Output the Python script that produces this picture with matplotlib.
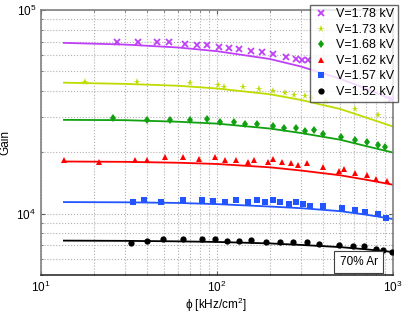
import numpy as np
import matplotlib
matplotlib.use("Agg")
import matplotlib.pyplot as plt
from matplotlib.ticker import LogLocator, NullFormatter

plt.rcParams['font.family'] = ['Liberation Sans', 'DejaVu Sans']
plt.rcParams['mathtext.default'] = 'regular'

labels = ["V=1.78 kV", "V=1.73 kV", "V=1.68 kV", "V=1.62 kV", "V=1.57 kV", "V=1.52 kV"]
colors = ["#c040f8", "#bedc00", "#10a010", "#ff0000", "#2255ff", "#000000"]
markers = ["x", "*", "d", "^", "s", "o"]
msizes = [4, 5.5, 4.5, 5, 4, 4.5]

# measured points (phi in kHz/cm2, gain)
phi_178 = [27.1, 35.7, 45.4, 53.4, 66.1, 76.7, 88.1, 102.6, 116.5, 132.8, 156.6,
           180, 209, 246, 280, 303, 327, 970]
gain_178 = [69900, 69900, 69700, 69450, 68400, 67350, 67350, 66100, 65340, 64600,
            63300, 62000, 60700, 59000, 57500, 56650, 56650, 36600]

phi_173 = [17.8, 35.3, 70.3, 100.7, 110, 140.5, 172.3, 207.3, 241.8, 273.8, 317,
           345, 416, 608, 825]
gain_173 = [44500, 44500, 43700, 42780, 41700, 41800, 40900, 40090, 39200, 38450,
            37970, 37060, 35670, 32790, 30640]

phi_168 = [25.5, 39.9, 53.9, 70.5, 87.2, 104, 125, 144.6, 168.1, 207.3, 241, 281,
           317.5, 357, 402, 506, 611, 709, 825, 900]
gain_168 = [29540, 28780, 28880, 29010, 29110, 28340, 28340, 27680, 27610, 26990,
            26480, 26480, 25430, 25810, 24750, 23770, 23130, 22620, 21790, 21300]

phi_162 = [13.56, 21.3, 34.3, 39.9, 50.5, 64.3, 79.3, 97.8, 110.3, 128.2, 149,
           162.7, 194.9, 207.3, 233.2, 262.6, 288.5, 326, 402, 494.6, 526.8, 610,
           709, 805, 927]
gain_162 = [18390, 17980, 18390, 18390, 18920, 18920, 18500, 18920, 18450, 18390,
            18040, 18450, 18040, 18540, 18040, 17720, 17350, 17720, 16900, 16150,
            16580, 15850, 15430, 14880, 14520]

phi_157 = [33.4, 38.6, 47.9, 64.4, 82.2, 94.9, 110.3, 128.2, 150, 169.4, 187.4,
           207.3, 228, 255.6, 281, 306.8, 337.6, 402, 513, 611, 690, 824, 909]
gain_157 = [11360, 11620, 11360, 11620, 11620, 11610, 11410, 11650, 11380, 11650,
            11380, 11650, 11410, 11160, 11410, 11160, 10940, 10940, 10700, 10460,
            10230, 10020, 9560]

phi_152 = [32.5, 39.9, 49.2, 64.4, 82.2, 97.8, 114.3, 132.5, 156, 189.8, 227,
           271.3, 326, 378.8, 494.6, 594.7, 686, 800.8, 881, 992]
gain_152 = [7185, 7373, 7543, 7543, 7543, 7543, 7390, 7390, 7407, 7240, 7240,
            7240, 7240, 7085, 7060, 6930, 6930, 6750, 6645, 6497]

# fitted curves
phi_fit = [13.5, 30, 60, 100, 200, 300, 500, 700, 1000]
fit_178 = [69000, 67700, 65500, 62800, 57500, 52800, 46000, 41200, 36200]
fit_173 = [44000, 43400, 42500, 41200, 38600, 36200, 32700, 29700, 26800]
fit_168 = [28900, 28800, 28300, 27700, 26200, 24900, 23100, 21500, 19970]
fit_162 = [18050, 17980, 17800, 17550, 16900, 16300, 15450, 14700, 13880]
fit_157 = [11410, 11380, 11300, 11150, 10850, 10650, 10300, 9900, 9420]
fit_152 = [7380, 7360, 7320, 7270, 7150, 7030, 6860, 6690, 6490]

phis = [phi_178, phi_173, phi_168, phi_162, phi_157, phi_152]
gains = [gain_178, gain_173, gain_168, gain_162, gain_157, gain_152]
fits = [fit_178, fit_173, fit_168, fit_162, fit_157, fit_152]

fig = plt.figure(figsize=(4.09, 3.14), dpi=100)
ax = fig.add_axes([0.1002, 0.124, 0.8608, 0.844])

for ph, g, f, c, m, ms, lab in zip(phis, gains, fits, colors, markers, msizes, labels):
    ax.plot(phi_fit, f, '-', color=c, lw=1.3, zorder=2)
    if m == 'x':
        ax.plot(ph, g, m, color=c, ms=ms, mew=1.3, ls='none', label=lab, zorder=3)
    else:
        ax.plot(ph, g, m, color=c, ms=ms, mew=0, ls='none', label=lab, zorder=3)

ax.set_xscale('log')
ax.set_yscale('log')
ax.set_xlim(10, 1000)
ax.set_ylim(5000, 1e5)
ax.xaxis.set_minor_locator(LogLocator(base=10, subs=np.arange(2, 10)))
ax.yaxis.set_minor_locator(LogLocator(base=10, subs=np.arange(2, 10)))
ax.xaxis.set_minor_formatter(NullFormatter())
ax.yaxis.set_minor_formatter(NullFormatter())
ax.grid(True, which='both', ls=':', color='#b0b0b0', lw=0.8)
ax.tick_params(which='both', direction='in', top=True, right=True, labelsize=8.5,
               color='#606060')
ax.tick_params(which='major', length=3)
ax.tick_params(which='minor', length=1.5)
for side in ['left', 'top', 'right']:
    ax.spines[side].set_color('#808080')
ax.spines['bottom'].set_color('#303030')
for s in ax.spines.values():
    s.set_linewidth(1.2)

ax.set_xlabel("ϕ [kHz/cm$^2$]", fontsize=8.5)
ax.set_ylabel("Gain", fontsize=8.5)
ax.xaxis.set_label_coords(0.497, -0.08)
ax.yaxis.set_label_coords(-0.085, 0.5)

leg = ax.legend(loc='upper right', bbox_to_anchor=(1.014, 1.02), borderaxespad=0,
                fontsize=9, frameon=True, fancybox=False, handlelength=1.2,
                handletextpad=0.6, labelspacing=0.28, borderpad=0.3)
leg.get_frame().set_edgecolor('#404040')
leg.get_frame().set_linewidth(1.0)
leg.set_zorder(5)

ax.text(0.902, 0.05, "70% Ar", transform=ax.transAxes, fontsize=8.5,
        ha='center', va='center',
        bbox=dict(boxstyle='square,pad=0.45', fc='white', ec='#404040', lw=0.8),
        zorder=6)

fig.savefig("out.png", dpi=100)
